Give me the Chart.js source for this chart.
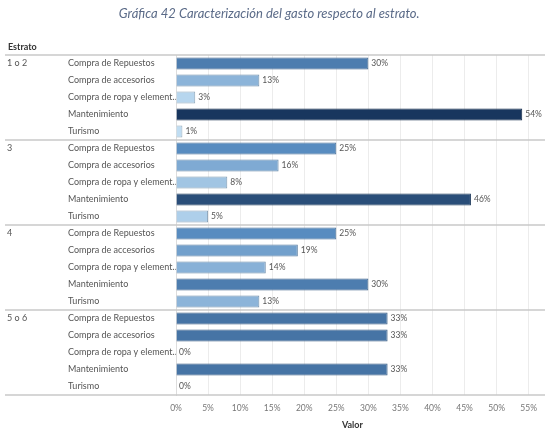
<!DOCTYPE html>
<html>
<head>
<meta charset="utf-8">
<title>Gráfica 42</title>
<script src="https://cdn.jsdelivr.net/npm/chart.js"></script>
<style>
  body { margin: 0; background: #fff; }
</style>
</head>
<body>
<canvas id="chartCanvas" width="545" height="430"></canvas>
<script>
// data
const groups = ['1 o 2', '3', '4', '5 o 6'];
const categories = ['Compra de Repuestos', 'Compra de accesorios', 'Compra de ropa y element\u2026', 'Mantenimiento', 'Turismo'];
const valores12 = [30, 13, 3, 54, 1];
const valores3 = [25, 16, 8, 46, 5];
const valores4 = [25, 19, 14, 30, 13];
const valores56 = [33, 33, 0, 33, 0];
const xTicks = [0, 5, 10, 15, 20, 25, 30, 35, 40, 45, 50, 55];

const allValues = [valores12, valores3, valores4, valores56];

// flatten into one row per (estrato, categoria)
const rowLabels = [];
const groupLabels = [];
const data = [];
groups.forEach((g, gi) => {
  categories.forEach((c, ci) => {
    rowLabels.push(c);
    groupLabels.push(ci === 0 ? g : '');
    data.push(allValues[gi][ci]);
  });
});

// sequential blue, light -> dark with the value
function mix(a, b, t) {
  return a.map((v, i) => Math.round(v + (b[i] - v) * t));
}
function colorFor(v, dark) {
  const c0 = [196, 224, 244], c1 = [88, 140, 192], c2 = [24, 54, 94];
  let c = v <= 25 ? mix(c0, c1, v / 25) : mix(c1, c2, Math.min(1, (v - 25) / 29));
  if (dark) c = c.map(x => Math.round(x * 0.78));
  return `rgb(${c[0]},${c[1]},${c[2]})`;
}

// separators, header and value labels
const extras = {
  id: 'extras',
  afterDraw(chart) {
    const ctx = chart.ctx;
    const y = chart.scales.y;
    const area = chart.chartArea;
    const half = (y.getPixelForValue(1) - y.getPixelForValue(0)) / 2;
    ctx.save();
    ctx.strokeStyle = '#c9c9c9';
    ctx.lineWidth = 1.5;
    for (let k = 0; k <= groups.length; k++) {
      const py = y.getPixelForValue(k * categories.length) - half;
      ctx.beginPath();
      ctx.moveTo(5, py);
      ctx.lineTo(545, py);
      ctx.stroke();
    }
    ctx.fillStyle = '#333';
    ctx.font = 'bold 9px Lato';
    ctx.textBaseline = 'middle';
    ctx.textAlign = 'left';
    ctx.fillText('Estrato', 8, area.top - 8);

    ctx.fillStyle = '#555';
    ctx.font = '8.5px Lato';
    chart.getDatasetMeta(0).data.forEach((bar, i) => {
      ctx.fillText(data[i] + '%', bar.x + 3, bar.y);
    });
    ctx.restore();
  }
};

const ctx = document.getElementById('chartCanvas').getContext('2d');
new Chart(ctx, {
  type: 'bar',
  data: {
    labels: rowLabels,
    datasets: [{
      label: 'Valor',
      data: data,
      backgroundColor: data.map(v => colorFor(v, false)),
      borderColor: data.map(v => colorFor(v, true)),
      borderWidth: 1,
      barPercentage: 0.72,
      categoryPercentage: 1
    }]
  },
  options: {
    indexAxis: 'y',
    responsive: false,
    animation: false,
    layout: { padding: { left: 7, right: 13.5, top: 0, bottom: 0 } },
    plugins: {
      legend: { display: false },
      tooltip: { enabled: false },
      title: {
        display: true,
        text: 'Gráfica 42 Caracterización del gasto respecto al estrato.',
        color: '#5b6b88',
        font: { family: 'Lato', style: 'italic', size: 13, weight: 'normal' },
        padding: { top: 6, bottom: 33.4 }
      }
    },
    scales: {
      x: {
        type: 'linear',
        min: 0,
        max: 55,
        afterBuildTicks: (s) => { s.ticks = xTicks.map(v => ({ value: v })); },
        afterFit: (s) => { s.height = 35; },
        grid: { color: '#ececec', drawTicks: false },
        border: { display: false },
        ticks: {
          padding: 8,
          color: '#777',
          font: { family: 'Lato', size: 8.5 },
          callback: (v) => v + '%'
        },
        title: {
          display: true,
          text: 'Valor',
          color: '#333',
          font: { family: 'Lato', size: 9, weight: 'bold' },
          padding: { top: 4, bottom: 0 }
        }
      },
      y: {
        type: 'category',
        position: 'left',
        weight: 0,
        labels: rowLabels,
        grid: { display: false },
        border: { display: true, color: '#dddddd', width: 1 },
        ticks: {
          crossAlign: 'far',
          autoSkip: false,
          color: '#555',
          font: { family: 'Lato', size: 9 }
        },
        afterFit: (s) => { s.width = 108; }
      },
      g: {
        type: 'category',
        position: 'left',
        weight: 1,
        labels: groupLabels,
        grid: { display: false },
        border: { display: false },
        ticks: {
          crossAlign: 'far',
          autoSkip: false,
          color: '#555',
          font: { family: 'Lato', size: 9 }
        },
        afterFit: (s) => { s.width = 61; }
      }
    }
  },
  plugins: [extras]
});
</script>
</body>
</html>
